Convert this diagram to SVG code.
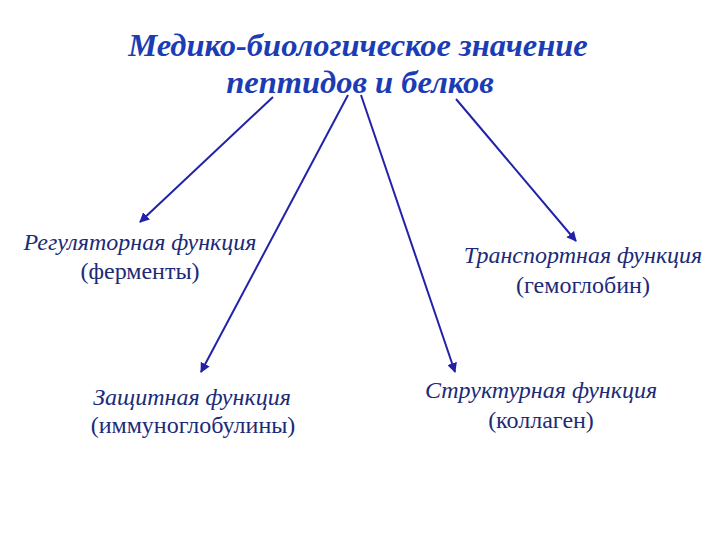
<svg xmlns="http://www.w3.org/2000/svg" width="720" height="540" viewBox="0 0 720 540">
<defs>
<style>
.title{font-family:"Liberation Serif","DejaVu Serif",serif;font-size:32.5px;font-weight:bold;font-style:italic;fill:#1b3cb4;text-anchor:middle}
.lbl{font-family:"Liberation Serif","DejaVu Serif",serif;font-size:24px;fill:#1c2a78;text-anchor:middle}
.it{font-style:italic}
.arr{stroke:#2222a8;stroke-width:2;fill:none;marker-end:url(#ah)}
</style>
<marker id="ah" viewBox="0 0 10 10" refX="9" refY="5" markerWidth="5" markerHeight="5" orient="auto" markerUnits="strokeWidth">
<path d="M0,0 L10,5 L0,10 z" fill="#2222a8"/>
</marker>
</defs>
<rect width="720" height="540" fill="#ffffff"/>
<g id="title">
<text class="title" x="358" y="56">Медико-биологическое значение</text>
<text class="title" x="360" y="93">пептидов и белков</text>
</g>
<g id="connectors">
<line class="arr" x1="273" y1="97" x2="140" y2="222"/>
<line class="arr" x1="348" y1="95" x2="201" y2="372"/>
<line class="arr" x1="361" y1="95" x2="455" y2="372"/>
<line class="arr" x1="456" y1="99" x2="576" y2="241"/>
</g>
<g id="regulatory">
<text class="lbl it" x="140" y="250">Регуляторная функция</text>
<text class="lbl" x="140" y="279">(ферменты)</text>
</g>
<g id="transport">
<text class="lbl it" x="583" y="263">Транспортная функция</text>
<text class="lbl" x="583" y="293">(гемоглобин)</text>
</g>
<g id="protective">
<text class="lbl it" x="192" y="405">Защитная функция</text>
<text class="lbl" x="193" y="433">(иммуноглобулины)</text>
</g>
<g id="structural">
<text class="lbl it" x="541" y="398">Структурная функция</text>
<text class="lbl" x="541" y="428">(коллаген)</text>
</g>
</svg>
